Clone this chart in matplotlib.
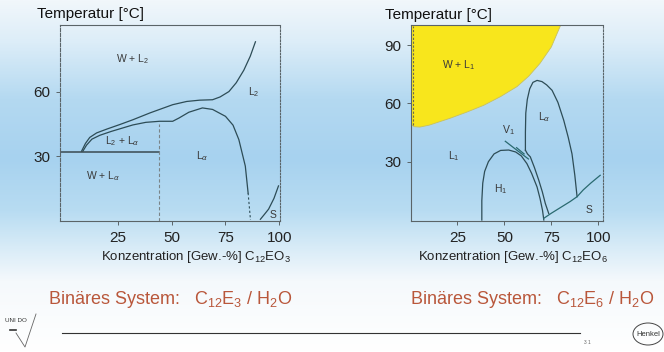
import numpy as np
import matplotlib
matplotlib.use('Agg')
import matplotlib.pyplot as plt
from matplotlib.colors import LinearSegmentedColormap
from matplotlib.patches import Ellipse

plt.rcParams['font.family'] = ['Liberation Sans', 'DejaVu Sans']
plt.rcParams['mathtext.fontset'] = 'dejavusans'

W, H = 664, 352

# ---- C12E3 / H2O (links) ----
l2_x = [8.2, 10, 12, 15.2, 20, 26, 32, 40, 50.5, 57, 63, 69, 72.5, 76.6, 80, 83.5, 86.5, 88.9]
l2_T = [32.4, 36, 38.8, 40.9, 42.7, 44.8, 47, 50.2, 54, 55.5, 56.1, 56.3, 57.6, 60.1, 64.2, 70, 76.5, 83.2]

la_x = [8.8, 10.5, 13, 16.7, 22, 32, 38, 44.4, 50.5, 53.4, 58, 64.3, 69, 75, 78.5, 81.2, 84.2, 85.5]
la_T = [32.4, 35.2, 38.0, 39.8, 41.6, 44.6, 45.8, 46.3, 46.3, 47.8, 50.5, 52.5, 51.8, 48.6, 44.5, 37.8, 25.5, 13]
la_dash_x = [85.5, 86.6]
la_dash_T = [13, 0.5]

s3_x = [91.2, 93, 95, 97.5, 99.6]
s3_T = [0.8, 3, 5.5, 10.5, 16.3]

t_eut = 32.2      # horizontale Linie
x_eut = 44.3
t_dash_top = 45

labels3 = ['W + L$\\mathregular{_2}$', 'L$\\mathregular{_2}$', 'L$\\mathregular{_2}$ + L$_\\alpha$',
           'L$_\\alpha$', 'W + L$_\\alpha$', 'S']
labels3_x = [32, 88, 27, 64, 18, 97]
labels3_T = [75, 60, 37, 30, 21, 3]

# ---- C12E6 / H2O (rechts) ----
yel_x = [0.5, 2, 5, 10, 21, 30, 39, 48, 56.7, 63, 69, 75, 80]
yel_T = [49, 48, 47.8, 48.8, 52.3, 55.5, 59, 63.5, 68.6, 74, 80.6, 89, 100.3]

h1_x = [38, 38, 38.5, 39.5, 41.5, 44.5, 48, 52.3, 56, 59, 62, 64.5, 67.4, 69, 70.3, 71]
h1_T = [0, 10, 19, 25, 30, 34, 35.8, 36, 35, 33, 29, 24, 17, 11, 5, 0]

lam_x = [61.2, 61.2, 61.4, 62.2, 63.5, 65.2, 67.4, 70, 72.5, 75.4, 78.5, 81.6, 84, 86, 87.5, 88.7]
lam_T = [35.9, 45, 55, 62, 67.5, 70.8, 71.8, 71.2, 69.5, 66.7, 60.5, 51.3, 42.5, 34, 23, 12]

lo_x = [61.2, 62.3, 63.8, 66, 68.3, 70.2, 71.8, 73.6]
lo_T = [35.9, 34, 32.5, 27, 20.5, 14.5, 8.5, 3.4]

v1a_x = [50.5, 56, 62.8]
v1a_T = [40.5, 36.4, 31.4]
v1b_x = [56.5, 60.5]
v1b_T = [37.2, 34.0]

s6_x = [71, 75, 80, 85, 88.7, 92, 96, 101]
s6_T = [0.9, 3.5, 6.5, 9.5, 12, 15.5, 19, 23]

labels6 = ['W + L$\\mathregular{_1}$', 'L$_\\alpha$', 'V$\\mathregular{_1}$',
           'H$\\mathregular{_1}$', 'L$\\mathregular{_1}$', 'S']
labels6_x = [25.5, 71, 52.3, 48, 23, 95]
labels6_T = [79.5, 53, 46, 16, 33, 5]

line_col = '#2d4c56'
frame_col = '#5a6468'
txt_col = '#3a3a3a'
red_col = '#b9573b'

fig = plt.figure(figsize=(W / 100, H / 100), dpi=100)

# Hintergrund mit blauem Verlauf
bg = fig.add_axes([0, 0, 1, 1], zorder=-10)
cmap = LinearSegmentedColormap.from_list('bg', [
    (0.0, '#f1f7fb'), (0.12, '#dcedf8'), (0.28, '#b4d9f1'), (0.45, '#a7d2ef'),
    (0.6, '#b8dcf2'), (0.7, '#d7ebf7'), (0.8, '#f5f9fc'), (1.0, '#ffffff')])
bg.imshow(np.linspace(0, 1, 256).reshape(-1, 1), aspect='auto', cmap=cmap,
          extent=[0, 1, 0, 1], origin='upper')
bg.set_axis_off()


def px(x0, y0, x1, y1):
    return [x0 / W, 1 - y1 / H, (x1 - x0) / W, (y1 - y0) / H]


def style_axes(ax, yticks):
    ax.set_facecolor('none')
    for s in ax.spines.values():
        s.set_color(frame_col)
        s.set_linewidth(0.8)
    ax.set_xticks([25, 50, 75, 100])
    ax.set_yticks(yticks)
    ax.tick_params(direction='out', length=3, width=0.7, color=frame_col,
                   labelsize=11, labelcolor='#222222', pad=4)


# ---------- links ----------
ax1 = fig.add_axes(px(60, 25, 280, 221))
style_axes(ax1, [30, 60])
ax1.set_xlim(-1.8, 100.3)
ax1.set_ylim(0, 91)
ax1.spines['left'].set_linestyle((0, (3, 1.5)))
ax1.spines['right'].set_linestyle((0, (1.5, 1.5)))

ax1.plot(l2_x, l2_T, color=line_col, lw=0.9)
ax1.plot(la_x, la_T, color=line_col, lw=0.9)
ax1.plot(la_dash_x, la_dash_T, color=line_col, lw=0.8, ls=(0, (2, 2)))
ax1.plot(s3_x, s3_T, color=line_col, lw=0.9)
ax1.plot([-1.8, x_eut], [t_eut, t_eut], color='#3a4a50', lw=1.1)
ax1.plot([x_eut, x_eut], [0, t_dash_top], color='#7a8488', lw=0.8, ls=(0, (3, 2)))
for s, x, t in zip(labels3, labels3_x, labels3_T):
    ax1.text(x, t, s, fontsize=7.5, color=txt_col, ha='center', va='center')

ax1.set_xlabel('Konzentration [Gew.-%] C$\\mathregular{_{12}}$EO$\\mathregular{_3}$',
               fontsize=9.5, color='#222222')
ax1.xaxis.set_label_coords(0.618, -0.145)
fig.text(37 / W, 1 - 14 / H, 'Temperatur [°C]', fontsize=11, color='#111111',
         ha='left', va='center')

# ---------- rechts ----------
ax2 = fig.add_axes(px(411, 25, 603, 221))
style_axes(ax2, [30, 60, 90])
ax2.set_xlim(0.3, 102.5)
ax2.set_ylim(-0.5, 100.3)
ax2.spines['right'].set_linestyle((0, (1.5, 1.5)))

ax2.fill(yel_x + [0.5], yel_T + [100.3], color='#f8e61c', lw=0, zorder=1)
ax2.plot(yel_x, yel_T, color='#c8c060', lw=0.6, zorder=2)
ax2.plot([1.2, 1.2], [yel_T[0], 100], color='#6a6a50', lw=0.8, ls=(0, (2, 1.5)), zorder=2)
ax2.plot(h1_x, h1_T, color=line_col, lw=0.9)
ax2.plot(lam_x, lam_T, color=line_col, lw=0.9)
ax2.plot(lo_x, lo_T, color=line_col, lw=0.9)
ax2.plot(v1a_x, v1a_T, color='#2a6a70', lw=0.9)
ax2.plot(v1b_x, v1b_T, color='#2a6a70', lw=0.9)
ax2.plot(s6_x, s6_T, color='#2a6a70', lw=0.9)
for s, x, t in zip(labels6, labels6_x, labels6_T):
    ax2.text(x, t, s, fontsize=7.5, color=txt_col, ha='center', va='center', zorder=3)

ax2.set_xlabel('Konzentration [Gew.-%] C$\\mathregular{_{12}}$EO$\\mathregular{_6}$',
               fontsize=9.5, color='#222222')
ax2.xaxis.set_label_coords(0.531, -0.145)
fig.text(385 / W, 1 - 15 / H, 'Temperatur [°C]', fontsize=11, color='#111111',
         ha='left', va='center')

# ---------- Untertitel ----------
fig.text(48 / W, 1 - 300 / H,
         'Binäres System:   C$\\mathregular{_{12}}$E$\\mathregular{_3}$ / H$\\mathregular{_2}$O',
         fontsize=13, color=red_col, ha='left', va='center')
fig.text(410 / W, 1 - 300 / H,
         'Binäres System:   C$\\mathregular{_{12}}$E$\\mathregular{_6}$ / H$\\mathregular{_2}$O',
         fontsize=13, color=red_col, ha='left', va='center')

# ---------- Fusszeile ----------
fig.add_artist(plt.Line2D([62 / W, 580 / W], [1 - 333 / H, 1 - 333 / H],
                          color='#333333', lw=0.8))
fig.text(5 / W, 1 - 321 / H, 'UNI DO', fontsize=4.5, color='#333333', ha='left', va='center')
fig.add_artist(plt.Line2D([16 / W, 25 / W, 36 / W], [1 - 333 / H, 1 - 347 / H, 1 - 314 / H],
                          color='#666666', lw=0.6))
fig.add_artist(plt.Line2D([10 / W, 16 / W], [1 - 330 / H, 1 - 330 / H], color='#333333', lw=1.2))
fig.text(587 / W, 1 - 342 / H, '3 1', fontsize=3.5, color='#666666', ha='center', va='center')
fig.add_artist(Ellipse((648 / W, 1 - 334 / H), 30 / W, 22 / H, transform=fig.transFigure,
                       fill=False, edgecolor='#444444', lw=0.7))
fig.text(648 / W, 1 - 334 / H, 'Henkel', fontsize=5.5, color='#333333', ha='center', va='center')

fig.savefig('out.png', dpi=100)
